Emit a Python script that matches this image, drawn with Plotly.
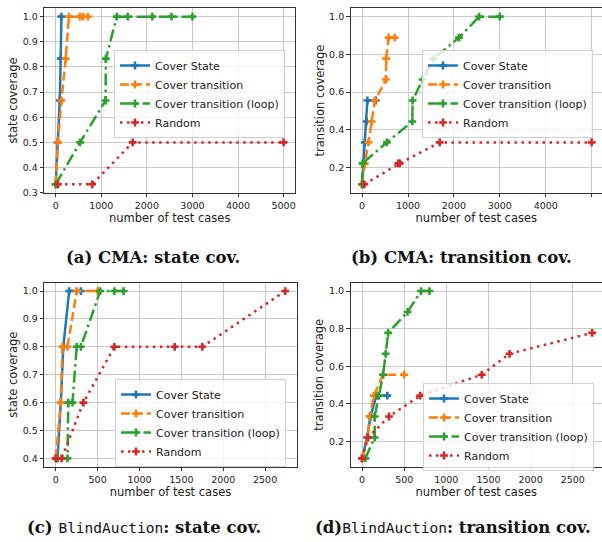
import plotly.graph_objects as go

W, H = 602, 542

series_names = ["Cover State", "Cover transition", "Cover transition (loop)", "Random"]
colors = ["#1f77b4", "#ff7f0e", "#2ca02c", "#d62728"]
dashes = ["solid", "9px,4px", "12px,4px,2.5px,4px", "2.5px,4.5px"]

# (a) CMA: state coverage
a_state_x = [0, 40, 90, 110, 125]
a_state_y = [1/3, 1/2, 2/3, 5/6, 1.0]
a_trans_x = [0, 50, 125, 220, 290, 530, 600, 705]
a_trans_y = [1/3, 1/2, 2/3, 5/6, 1, 1, 1, 1]
a_loop_x = [0, 535, 1095, 1100, 1340, 1580, 2120, 2540, 3000]
a_loop_y = [1/3, 1/2, 2/3, 5/6, 1, 1, 1, 1, 1]
a_rand_x = [50, 800, 1690, 5000]
a_rand_y = [1/3, 1/3, 1/2, 1/2]

# (b) CMA: transition coverage
b_state_x = [0, 30, 60, 100, 115, 300]
b_state_y = [1/9, 2/9, 3/9, 4/9, 5/9, 5/9]
b_trans_x = [0, 60, 140, 210, 280, 520, 525, 580, 710]
b_trans_y = [1/9, 2/9, 3/9, 4/9, 5/9, 6/9, 7/9, 8/9, 8/9]
b_loop_x = [0, 10, 540, 1095, 1100, 1320, 1560, 2110, 2550, 3000]
b_loop_y = [1/9, 2/9, 3/9, 4/9, 5/9, 6/9, 7/9, 8/9, 1, 1]
b_rand_x = [50, 790, 820, 1690, 5000]
b_rand_y = [1/9, 2/9, 2/9, 3/9, 3/9]

# (c) BlindAuction: state coverage
c_state_x = [20, 60, 90, 160, 300]
c_state_y = [0.4, 0.6, 0.8, 1.0, 1.0]
c_trans_x = [0, 60, 80, 140, 250, 500]
c_trans_y = [0.4, 0.6, 0.8, 0.8, 1.0, 1.0]
c_loop_x = [20, 140, 150, 200, 250, 300, 530, 700, 810]
c_loop_y = [0.4, 0.4, 0.6, 0.6, 0.8, 0.8, 1.0, 1.0, 1.0]
c_rand_x = [0, 70, 330, 700, 1420, 1750, 2740]
c_rand_y = [0.4, 0.4, 0.6, 0.8, 0.8, 0.8, 1.0]

# (d) BlindAuction: transition coverage
d_state_x = [0, 60, 100, 170, 300]
d_state_y = [1/9, 2/9, 3/9, 4/9, 4/9]
d_trans_x = [0, 70, 90, 140, 250, 500]
d_trans_y = [1/9, 2/9, 3/9, 4/9, 5/9, 5/9]
d_loop_x = [40, 150, 150, 200, 250, 280, 310, 540, 700, 800]
d_loop_y = [1/9, 2/9, 3/9, 4/9, 5/9, 6/9, 7/9, 8/9, 1.0, 1.0]
d_rand_x = [0, 70, 320, 690, 1420, 1750, 2730]
d_rand_y = [1/9, 2/9, 3/9, 4/9, 5/9, 6/9, 7/9]

y_titles = ["state coverage", "transition coverage", "state coverage", "transition coverage"]
x_title = "number of test cases"

panels = [
    [(a_state_x, a_state_y), (a_trans_x, a_trans_y), (a_loop_x, a_loop_y), (a_rand_x, a_rand_y)],
    [(b_state_x, b_state_y), (b_trans_x, b_trans_y), (b_loop_x, b_loop_y), (b_rand_x, b_rand_y)],
    [(c_state_x, c_state_y), (c_trans_x, c_trans_y), (c_loop_x, c_loop_y), (c_rand_x, c_rand_y)],
    [(d_state_x, d_state_y), (d_trans_x, d_trans_y), (d_loop_x, d_loop_y), (d_rand_x, d_rand_y)],
]

# layout geometry (pixels)
x_domains_px = [(44.3, 295.0), (350.6, 602.0), (44.3, 296.7), (350.5, 602.0)]
y_domains_px = [(8.3, 192.7), (8.3, 192.7), (282.7, 466.7), (282.7, 466.7)]
x_ranges = [[-250, 5250], [-250, 5225], [-137, 2877], [-137, 2847]]
y_ranges = [[0.3, 1.0333], [0.0667, 1.0444], [0.37, 1.03], [0.0667, 1.0444]]
x_dticks = [1000, 1000, 500, 500]
y_dticks = [0.1, 0.2, 0.1, 0.2]
# (x_left, y_px, anchor)
legend_pos_px = [(114, 138, "bottom"), (422, 138, "bottom"), (115, 379, "top"), (423, 383, "top")]

fig = go.Figure()
legend_keys = ["legend", "legend2", "legend3", "legend4"]

for p, series in enumerate(panels):
    xa = "x" if p == 0 else f"x{p+1}"
    ya = "y" if p == 0 else f"y{p+1}"
    for s, (xs, ys) in enumerate(series):
        fig.add_trace(go.Scatter(
            x=xs, y=ys, mode="lines+markers", name=series_names[s],
            xaxis=xa, yaxis=ya, legend=legend_keys[p],
            line=dict(color=colors[s], width=2.5, dash=dashes[s]),
            marker=dict(symbol="cross", size=6.5, color=colors[s], line=dict(width=0)),
        ))

font_main = "DejaVu Sans"
layout = dict(
    width=W, height=H, margin=dict(l=0, r=0, t=0, b=0, autoexpand=False),
    paper_bgcolor="white", plot_bgcolor="white",
    font=dict(family=font_main, color="#222"),
    showlegend=True,
)

for p in range(4):
    xk = "xaxis" if p == 0 else f"xaxis{p+1}"
    yk = "yaxis" if p == 0 else f"yaxis{p+1}"
    ya_anchor = "y" if p == 0 else f"y{p+1}"
    xa_anchor = "x" if p == 0 else f"x{p+1}"
    x0, x1 = x_domains_px[p]
    y0, y1 = y_domains_px[p]
    layout[xk] = dict(
        domain=[x0 / W, min(x1 / W, 1.0)], anchor=ya_anchor, automargin=False,
        range=x_ranges[p], dtick=x_dticks[p], tick0=0,
        showgrid=True, gridcolor="#c8c8c8", gridwidth=1.2, zeroline=False,
        showline=True, linecolor="#333", linewidth=1, mirror=True,
        ticks="outside", ticklen=3.5, tickcolor="#333",
        tickfont=dict(size=9.5, family=font_main, color="#222"),
        title=dict(text=x_title, font=dict(size=11.5, family=font_main, color="#222"), standoff=1),
    )
    layout[yk] = dict(
        domain=[1 - y1 / H, 1 - y0 / H], anchor=xa_anchor, automargin=False,
        range=y_ranges[p], dtick=y_dticks[p], tick0=0, tickformat=".1f",
        showgrid=True, gridcolor="#c8c8c8", gridwidth=1.2, zeroline=False,
        showline=True, linecolor="#333", linewidth=1, mirror=(p in (0, 2)),
        ticks="outside", ticklen=3.5, tickcolor="#333",
        tickfont=dict(size=9.5, family=font_main, color="#222"),
        title=dict(text=y_titles[p], font=dict(size=11.5, family=font_main, color="#222"), standoff=2),
    )
    lx, ly, lanchor = legend_pos_px[p]
    layout[legend_keys[p]] = dict(
        x=lx / W, y=1 - ly / H, xref="paper", yref="paper",
        xanchor="left", yanchor=lanchor,
        bgcolor="rgba(255,255,255,0.8)", bordercolor="#d0d0d0", borderwidth=1,
        font=dict(size=11, family=font_main, color="#222"),
        itemwidth=30, tracegroupgap=0,
    )

fig.update_layout(**layout)

serif = "DejaVu Serif"
captions = [
    ("<b>(a) CMA: state cov.</b>", 152.5 / W, 257, "center"),
    ("<b>(b) CMA: transition cov.</b>", 461 / W, 257, "center"),
    ("<b>(c) </b><span style='font-family:DejaVu Sans Mono;font-size:14.5px'>BlindAuction</span><b>: state cov.</b>", 25 / W, 527, "left"),
    ("<b>(d)</b><span style='font-family:DejaVu Sans Mono;font-size:14.5px'>BlindAuction</span><b>: transition cov.</b>", 313 / W, 527, "left"),
]
for text, xp, ypx, anchor in captions:
    fig.add_annotation(text=text, x=xp, y=1 - ypx / H, xref="paper", yref="paper",
                       xanchor=anchor, yanchor="middle", showarrow=False,
                       font=dict(family=serif, size=16.5, color="#111"))

fig.write_html(
    "out.html",
    config={"displayModeBar": False},
    post_script="document.body.style.margin='0';document.body.style.overflow='hidden';"
                "var d=document.getElementById('{plot_id}');if(d&&d.parentElement){d.parentElement.style.margin='0';}",
)
